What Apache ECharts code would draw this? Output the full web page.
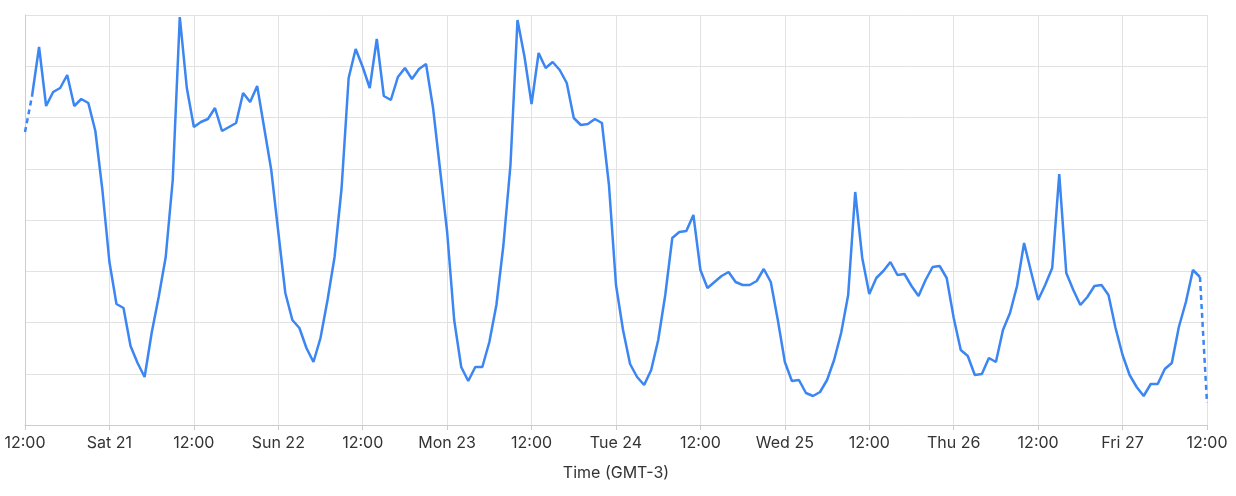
<!DOCTYPE html>
<html>
<head>
<meta charset="utf-8">
<script src="https://cdn.jsdelivr.net/npm/echarts@6/dist/echarts.min.js"></script>
<style>
  html, body { margin: 0; padding: 0; background: #fff; }
  #chart { width: 1236px; height: 496px; }
</style>
</head>
<body>
<div id="chart"></div>
<script>
// hourly samples, Fri 20 12:00 -> Fri 27 12:00 (GMT-3)
const values = [
  293, 329, 378, 319, 333, 337, 350, 319, 326, 322, 294, 235,
  163, 121, 117, 79, 62, 48, 92, 128, 168, 245, 408, 337,
  298, 303, 306, 317, 294, 298, 302, 332, 323, 339, 297, 255,
  193, 132, 105, 97, 77, 63, 87, 125, 168, 237, 347, 376,
  358, 337, 386, 329, 325, 348, 357, 346, 356, 361, 317, 255,
  193, 105, 58, 44, 58, 58, 83, 120, 180, 260, 405, 368,
  321, 372, 357, 363, 355, 342, 307, 300, 301, 306, 302, 240,
  140, 95, 61, 48, 40, 55, 85, 130, 187, 193, 194, 210,
  155, 137, 143, 149, 153, 143, 140, 140, 144, 156, 143, 105,
  63, 44, 45, 32, 29, 33, 45, 65, 92, 130, 233, 167,
  131, 147, 154, 163, 150, 151, 139, 129, 145, 158, 159, 147,
  107, 75, 69, 50, 51, 67, 63, 95, 112, 139, 182, 153,
  125, 140, 157, 251, 152, 135, 120, 128, 139, 140, 130, 97,
  70, 50, 38, 29, 41, 41, 56, 62, 98, 123, 155, 148,
  22
];
const tickLabels = ['12:00', 'Sat 21', '12:00', 'Sun 22', '12:00', 'Mon 23', '12:00',
  'Tue 24', '12:00', 'Wed 25', '12:00', 'Thu 26', '12:00', 'Fri 27', '12:00'];
const hours = values.map((v, i) => i);

const last = values.length - 1;
// first and last segments are incomplete -> dashed
const solid = values.map((v, i) => (i >= 1 && i <= last - 1 ? v : null));
const dashed = values.map((v, i) => (i <= 1 || i >= last - 1 ? v : null));

const every12 = (i) => i % 12 === 0;
const lineColor = '#3b86f2';

const chart = echarts.init(document.getElementById('chart'));
chart.setOption({
  animation: false,
  grid: { left: 25, right: 29, top: 15, bottom: 71 },
  xAxis: {
    type: 'category',
    data: hours,
    boundaryGap: false,
    name: 'Time (GMT-3)',
    nameLocation: 'middle',
    nameGap: 40,
    nameTextStyle: { color: '#333', fontSize: 16, fontFamily: 'Inter' },
    axisLine: { lineStyle: { color: '#ccc' } },
    axisTick: { show: true, interval: every12, length: 5, lineStyle: { color: '#ccc' } },
    axisLabel: {
      interval: every12,
      color: '#333',
      fontSize: 16,
      fontFamily: 'Inter',
      margin: 10,
      formatter: (v, i) => tickLabels[i / 12]
    },
    splitLine: { show: true, interval: every12, lineStyle: { color: '#e2e2e2' } }
  },
  yAxis: {
    type: 'value',
    min: 0,
    max: 410,
    interval: 51.25,
    axisLine: { show: true, lineStyle: { color: '#ccc' } },
    axisLabel: { show: false },
    axisTick: { show: false },
    splitLine: { lineStyle: { color: '#e2e2e2' } }
  },
  series: [
    {
      type: 'line',
      data: solid,
      showSymbol: false,
      connectNulls: false,
      lineStyle: { color: lineColor, width: 2.5 }
    },
    {
      type: 'line',
      data: dashed,
      showSymbol: false,
      connectNulls: false,
      lineStyle: { color: lineColor, width: 2.5, type: [5, 4] }
    }
  ]
});
</script>
</body>
</html>
